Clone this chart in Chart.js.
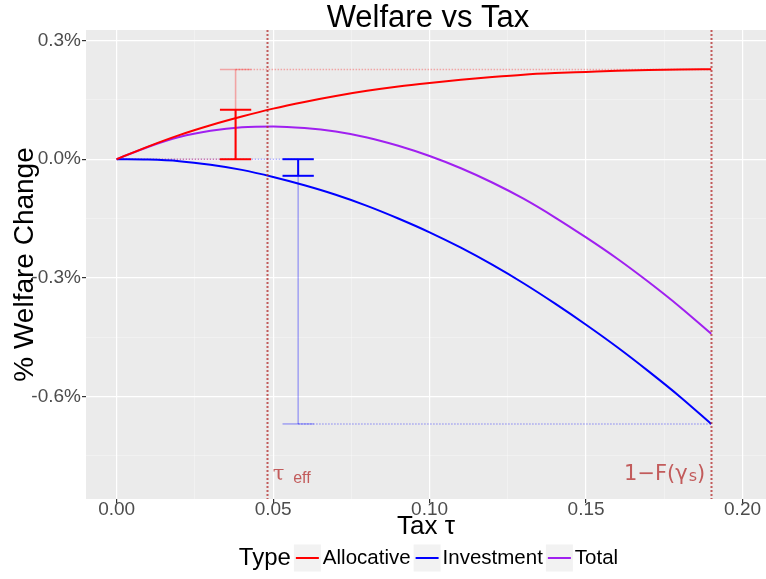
<!DOCTYPE html>
<html>
<head>
<meta charset="utf-8">
<script src="https://cdn.jsdelivr.net/npm/chart.js@4.4.1/dist/chart.umd.min.js"></script>
<style>
  html, body { margin: 0; padding: 0; background: #fff; }
  #wrap { width: 766px; height: 579px; }
</style>
</head>
<body>
<div id="wrap"><canvas id="welfare" width="766" height="579"></canvas></div>
<script>
// ---------- dados ----------
const taxGrid    = [0, 0.01, 0.02, 0.03, 0.04, 0.05, 0.06, 0.07, 0.08, 0.09, 0.10,
                    0.11, 0.12, 0.13, 0.14, 0.15, 0.16, 0.17, 0.18, 0.19];
const allocative = [0, 0.00032, 0.00061, 0.00086, 0.00108, 0.00128, 0.00145, 0.00160, 0.00173, 0.00184, 0.00193,
                    0.00201, 0.00208, 0.00214, 0.00218, 0.00221, 0.00224, 0.00226, 0.00227, 0.002275];
const investment = [0, -0.00001, -0.00005, -0.00014, -0.00027, -0.00045, -0.00066, -0.00090, -0.00118, -0.00150, -0.00185,
                    -0.00224, -0.00267, -0.00314, -0.00365, -0.00419, -0.00476, -0.00537, -0.00601, -0.00670];
const total      = [0, 0.00031, 0.00056, 0.00072, 0.00081, 0.00083, 0.00079, 0.00070, 0.00055, 0.00034, 0.00008,
                    -0.00023, -0.00059, -0.00100, -0.00147, -0.00198, -0.00252, -0.00311, -0.00374, -0.00442];

const seriesNames  = ["Allocative", "Investment", "Total"];
const seriesColors = ["#FF0000", "#0000FF", "#A020F0"];
const lightColors  = ["rgba(255,0,0,0.3)", "rgba(0,0,255,0.3)"];

// barras de erro: posição, valor em tau_eff, valor em 1-F(gamma_s)
const barX    = [0.038, 0.058];
const barEff  = [0.00125, -0.00042];
const barFull = [0.00227, -0.0067];
const capHalf = 0.005;

const tauEff = 0.048;
const tauMax = 0.19;

const xTicks      = [0, 0.05, 0.10, 0.15, 0.20];
const xTickLabels = ["0.00", "0.05", "0.10", "0.15", "0.20"];
const xMinor      = [0.025, 0.075, 0.125, 0.175];
const yTicks      = [-0.006, -0.003, 0, 0.003];
const yTickLabels = ["-0.6%", "-0.3%", "0.0%", "0.3%"];
const yMinor      = [-0.0075, -0.0045, -0.0015, 0.0015];

const FONT = "'Liberation Sans', Arial, sans-serif";
const ANNOT = "rgba(178,34,34,0.72)";

// ---------- helpers ----------
function seg(x0, y0, x1, y1, color, width, dash, order) {
  return {
    type: "line",
    data: [{ x: x0, y: y0 }, { x: x1, y: y1 }],
    borderColor: color, borderWidth: width, borderDash: dash || [],
    pointRadius: 0, tension: 0, order: order
  };
}
function curve(ys, i) {
  return {
    type: "line", label: seriesNames[i],
    data: taxGrid.map((x, k) => ({ x: x, y: ys[k] })),
    borderColor: seriesColors[i], borderWidth: 2,
    pointRadius: 0, cubicInterpolationMode: "monotone", order: 5
  };
}

const datasets = [curve(allocative, 0), curve(investment, 1), curve(total, 2)];

// barras claras + pontilhados (até 1-F)
barX.forEach((bx, i) => {
  const c = lightColors[i];
  datasets.push(seg(bx, 0, bx, barFull[i], c, 1.6, [], 9));
  datasets.push(seg(bx - capHalf, barFull[i], bx + capHalf, barFull[i], c, 1.6, [], 9));
  datasets.push(seg(bx, barFull[i], tauMax, barFull[i], c, 1.6, [1.5, 1.5], 9));
  datasets.push(seg(0, 0, bx, 0, c, 1.6, [1.5, 1.5], 9));
});
// barras sólidas (em tau_eff)
barX.forEach((bx, i) => {
  const c = seriesColors[i];
  datasets.push(seg(bx, 0, bx, barEff[i], c, 2, [], 1));
  datasets.push(seg(bx - capHalf, 0, bx + capHalf, 0, c, 2, [], 1));
  datasets.push(seg(bx - capHalf, barEff[i], bx + capHalf, barEff[i], c, 2, [], 1));
});

// ---------- plugins ----------
const panelBg = {
  id: "panelBg",
  beforeDraw(chart) {
    const { ctx, chartArea: a } = chart;
    ctx.save();
    ctx.fillStyle = "#EBEBEB";
    ctx.fillRect(a.left, a.top, a.right - a.left, a.bottom - a.top);
    ctx.restore();
  }
};

const annotations = {
  id: "annotations",
  afterDatasetsDraw(chart) {
    const { ctx, chartArea: a, scales } = chart;
    ctx.save();
    ctx.strokeStyle = ANNOT;
    ctx.lineWidth = 2;
    ctx.setLineDash([2, 2]);
    [tauEff, tauMax].forEach(v => {
      const px = Math.round(scales.x.getPixelForValue(v)) + 0.5;
      ctx.beginPath(); ctx.moveTo(px, a.top); ctx.lineTo(px, a.bottom); ctx.stroke();
    });
    ctx.setLineDash([]);
    ctx.fillStyle = ANNOT;
    ctx.textBaseline = "alphabetic";
    // tau eff
    let x = scales.x.getPixelForValue(tauEff) + 6;
    ctx.textAlign = "left";
    ctx.font = "21px 'DejaVu Serif', serif";
    ctx.fillText("τ", x, 480);
    x += ctx.measureText("τ ").width + 2;
    ctx.font = "16px " + FONT;
    ctx.fillText("eff", x, 483);
    // 1 - F(gamma_s)
    let r = scales.x.getPixelForValue(tauMax) - 6;
    ctx.textAlign = "right";
    ctx.font = "21px 'DejaVu Sans', sans-serif";
    ctx.fillText(")", r, 480);
    r -= ctx.measureText(")").width;
    ctx.font = "16px 'DejaVu Sans', sans-serif";
    ctx.fillText("s", r, 481);
    r -= ctx.measureText("s").width + 1;
    ctx.font = "21px 'DejaVu Sans', sans-serif";
    ctx.fillText("1−F(γ", r, 480);
    ctx.restore();
  }
};

const titleAndLegend = {
  id: "titleAndLegend",
  afterDraw(chart) {
    const { ctx, chartArea: a } = chart;
    const cx = (a.left + a.right) / 2;
    ctx.save();
    ctx.fillStyle = "#000";
    ctx.textAlign = "center";
    ctx.textBaseline = "middle";
    ctx.font = "31px " + FONT;
    ctx.fillText("Welfare vs Tax", cx + 2, 18);

    // legenda: "Type" + chaves
    const y = 558, box = 27, gap = 3;
    ctx.font = "24px " + FONT;
    const titleW = ctx.measureText("Type").width;
    ctx.font = "20.5px " + FONT;
    const widths = seriesNames.map(n => ctx.measureText(n).width);
    let totalW = titleW + gap;
    widths.forEach(w => { totalW += box + 2 + w + gap; });
    let x = cx - totalW / 2 + 4;
    ctx.textAlign = "left";
    ctx.font = "24px " + FONT;
    ctx.fillText("Type", x, y);
    x += titleW + gap;
    ctx.font = "20.5px " + FONT;
    seriesNames.forEach((n, i) => {
      ctx.fillStyle = "#F2F2F2";
      ctx.fillRect(x, y - box / 2, box, box);
      ctx.strokeStyle = seriesColors[i];
      ctx.lineWidth = 2;
      ctx.beginPath(); ctx.moveTo(x + 2, y); ctx.lineTo(x + box - 2, y); ctx.stroke();
      x += box + 2;
      ctx.fillStyle = "#000";
      ctx.fillText(n, x, y);
      x += widths[i] + gap;
    });
    ctx.restore();
  }
};

// ---------- gráfico ----------
const isMajor = (arr, v) => arr.indexOf(v) !== -1;

new Chart(document.getElementById("welfare"), {
  type: "line",
  data: { datasets },
  options: {
    responsive: false,
    animation: false,
    devicePixelRatio: 1,
    layout: { padding: { top: 30, left: 0, right: 0, bottom: 0 } },
    plugins: { legend: { display: false }, tooltip: { enabled: false } },
    scales: {
      x: {
        type: "linear", min: -0.0098, max: 0.2075,
        afterBuildTicks: s => { s.ticks = xTicks.concat(xMinor).sort((a, b) => a - b).map(v => ({ value: v })); },
        afterFit: s => { s.height = 80; },
        border: { display: false },
        grid: {
          color: c => isMajor(xTicks, c.tick.value) ? "#FFFFFF" : "rgba(255,255,255,0.55)",
          lineWidth: c => isMajor(xTicks, c.tick.value) ? 1.2 : 0.6,
          tickColor: c => isMajor(xTicks, c.tick.value) ? "#333333" : "rgba(0,0,0,0)",
          tickLength: 4
        },
        ticks: {
          autoSkip: false, maxRotation: 0, padding: -5,
          color: "#4D4D4D", font: { family: FONT, size: 19 },
          callback: v => { const i = xTicks.indexOf(v); return i === -1 ? "" : xTickLabels[i]; }
        },
        title: {
          display: true, text: "Tax τ", color: "#000",
          font: { family: FONT, size: 26 }, padding: { top: 0, bottom: 37 }
        }
      },
      y: {
        type: "linear", min: -0.0086, max: 0.00327,
        afterBuildTicks: s => { s.ticks = yTicks.concat(yMinor).sort((a, b) => a - b).map(v => ({ value: v })); },
        afterFit: s => { s.width = 86; },
        border: { display: false },
        grid: {
          color: c => isMajor(yTicks, c.tick.value) ? "#FFFFFF" : "rgba(255,255,255,0.55)",
          lineWidth: c => isMajor(yTicks, c.tick.value) ? 1.2 : 0.6,
          tickColor: c => isMajor(yTicks, c.tick.value) ? "#333333" : "rgba(0,0,0,0)",
          tickLength: 4
        },
        ticks: {
          autoSkip: false, padding: 1,
          color: "#4D4D4D", font: { family: FONT, size: 19 },
          callback: v => { const i = yTicks.indexOf(v); return i === -1 ? "" : yTickLabels[i]; }
        },
        title: {
          display: true, text: "% Welfare Change", color: "#000",
          font: { family: FONT, size: 28 }, padding: { top: 8, bottom: 0 }
        }
      }
    }
  },
  plugins: [panelBg, annotations, titleAndLegend]
});
</script>
</body>
</html>
